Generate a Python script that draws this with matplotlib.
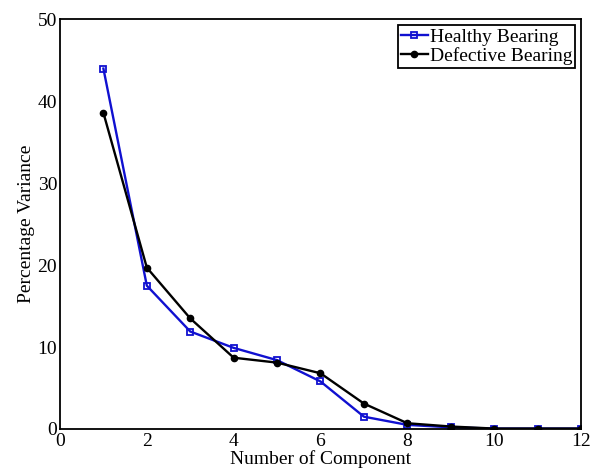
import matplotlib
matplotlib.use("Agg")
import matplotlib.pyplot as plt

plt.rcParams['font.family'] = ['Liberation Serif', 'DejaVu Serif']

components = [1, 2, 3, 4, 5, 6, 7, 8, 9, 10, 11, 12]
healthy = [44.0, 17.5, 11.9, 9.9, 8.4, 5.8, 1.5, 0.5, 0.2, 0.05, 0.05, 0.05]
defective = [38.6, 19.7, 13.5, 8.7, 8.1, 6.8, 3.1, 0.7, 0.3, 0.05, 0.05, 0.05]

fig = plt.figure(figsize=(5.91, 4.74), dpi=100)
ax = fig.add_axes([0.1015, 0.095, 0.8816, 0.864])

ax.plot(components, healthy, color='#1010d0', marker='s', markersize=4,
        markerfacecolor='none', markeredgewidth=1.3, linewidth=1.7,
        label='Healthy Bearing')
ax.plot(components, defective, color='black', marker='o', markersize=4.5,
        linewidth=1.7, label='Defective Bearing')

ax.set_xlim(0, 12)
ax.set_ylim(0, 50)
ax.set_xticks(range(0, 13, 2))
ax.set_yticks(range(0, 51, 10))
ax.tick_params(length=0, labelsize=14, pad=2)
ax.tick_params(axis='x', pad=3)
for s in ax.spines.values():
    s.set_linewidth(1.3)

ax.set_xlabel('Number of Component', fontsize=14, labelpad=0)
ax.set_ylabel('Percentage Variance', fontsize=14, labelpad=2)

leg = ax.legend(loc='upper right', fontsize=14, frameon=True, fancybox=False,
                handlelength=1.4, handletextpad=0.1, borderpad=0.15,
                labelspacing=0.05, borderaxespad=0.3)
leg.get_frame().set_edgecolor('black')
leg.get_frame().set_linewidth(1.3)
leg.get_frame().set_alpha(1)

fig.savefig('out.png', dpi=100)
